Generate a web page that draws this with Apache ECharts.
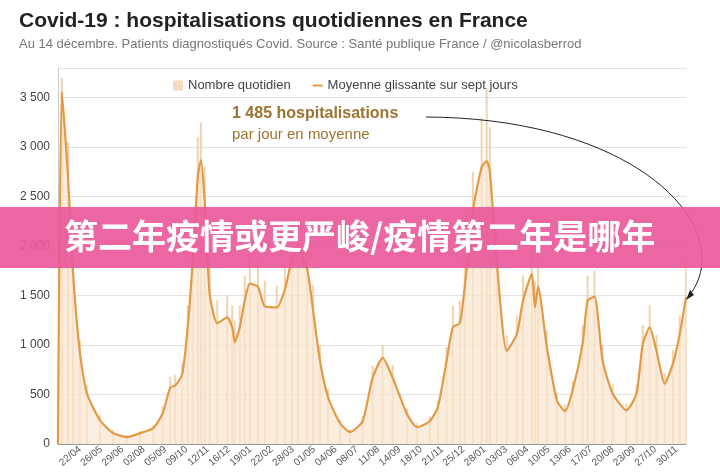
<!DOCTYPE html>
<html>
<head>
<meta charset="utf-8">
<script src="https://cdn.jsdelivr.net/npm/echarts@6/dist/echarts.min.js"></script>
<style>
  html, body { margin: 0; padding: 0; background: #fff; }
  #chart { width: 720px; height: 476px; }
</style>
</head>
<body>
<div id="chart"></div>
<script>
// day index from 18/03/2020
var dayIdx = [0, 6, 16, 24, 35, 46, 67, 88, 110, 131, 152, 167, 179, 187, 198, 207, 215, 223, 228, 234, 242, 254, 270, 278, 282, 290, 298, 306, 319, 330, 349, 362, 373, 383, 397, 407, 418, 431, 450, 466, 486, 502, 518, 534, 557, 573, 593, 606, 620, 630, 641, 649, 662, 676, 684, 689, 700, 716, 732, 742, 756, 761, 766, 780, 796, 809, 821, 837, 845, 856, 869, 885, 907, 923, 933, 944, 955, 968, 981, 992, 1002];
// moyenne glissante sur sept jours
var avgValues = [0, 3560, 2700, 1730, 920, 515, 240, 110, 70, 110, 160, 310, 570, 590, 700, 1180, 1860, 2700, 2870, 2460, 1520, 1220, 1280, 1180, 1030, 1180, 1450, 1620, 1590, 1390, 1380, 1560, 1860, 1960, 1790, 1350, 840, 470, 210, 120, 230, 670, 870, 670, 300, 170, 230, 370, 840, 1180, 1220, 1590, 2360, 2800, 2860, 2760, 1850, 940, 1110, 1450, 1720, 1380, 1590, 980, 440, 330, 540, 1010, 1450, 1490, 840, 510, 340, 510, 1010, 1180, 940, 610, 810, 1110, 1485];
// nombre quotidien (pics journaliers)
var dailyValues = [0, 3700, 3050, 1950, 1050, 600, 290, 140, 90, 130, 190, 380, 680, 700, 820, 1400, 2150, 3100, 3250, 2800, 1800, 1450, 1500, 1400, 1250, 1400, 1700, 1900, 1850, 1650, 1600, 1800, 2200, 2300, 2100, 1600, 1000, 560, 250, 150, 280, 790, 1000, 800, 360, 210, 280, 440, 980, 1400, 1450, 1850, 2750, 3300, 3600, 3200, 2150, 1100, 1300, 1700, 2000, 1650, 1850, 1150, 520, 400, 640, 1200, 1700, 1750, 1000, 600, 410, 600, 1200, 1400, 1100, 720, 950, 1300, 1900];
var startDate = new Date(2020, 2, 18);
var nbDays = 1003;
var firstLabel = 35, labelStep = 34;

var categories = [];
for (var i = 0; i < nbDays; i++) {
    var d = new Date(startDate.getTime() + i * 86400000);
    categories.push(('0' + d.getDate()).slice(-2) + '/' + ('0' + (d.getMonth() + 1)).slice(-2));
}

var chart = echarts.init(document.getElementById('chart'));
var font = 'Liberation Sans, Arial, sans-serif';

var option = {
    animation: false,
    textStyle: { fontFamily: font },
    title: {
        text: 'Covid-19 : hospitalisations quotidiennes en France',
        subtext: 'Au 14 décembre. Patients diagnostiqués Covid. Source : Santé publique France / @nicolasberrod',
        left: 14, top: 6, itemGap: 6,
        textStyle: { fontSize: 21, fontWeight: 'bold', color: '#222' },
        subtextStyle: { fontSize: 13, color: '#777' }
    },
    legend: {
        top: 74, left: 168, itemGap: 22,
        textStyle: { fontSize: 13, color: '#444' },
        data: [
            { name: 'Nombre quotidien', icon: 'rect', itemStyle: { color: '#f6dcbd' } },
            { name: 'Moyenne glissante sur sept jours', icon: 'path://M0,4 L10,4 L10,6 L0,6 Z' }
        ],
        itemWidth: 10, itemHeight: 10
    },
    grid: { left: 58, right: 34, top: 68, bottom: 32 },
    xAxis: {
        type: 'category',
        data: categories,
        boundaryGap: false,
        axisLine: { lineStyle: { color: '#999' } },
        axisTick: { show: false },
        axisLabel: {
            rotate: 40, fontSize: 10, color: '#555', margin: 4,
            interval: function (idx) { return idx >= firstLabel && (idx - firstLabel) % labelStep === 0; }
        }
    },
    yAxis: {
        type: 'value', min: 0, max: 3800, interval: 500,
        axisLine: { show: true, lineStyle: { color: '#ccc' } },
        splitLine: { lineStyle: { color: '#e2e2e2' } },
        axisLabel: {
            fontSize: 12, color: '#444', showMaxLabel: false,
            formatter: function (v) { return v >= 1000 ? Math.floor(v / 1000) + ' ' + String(v % 1000).padStart(3, '0') : v; }
        }
    },
    series: [
        {
            name: 'Nombre quotidien', type: 'bar',
            barWidth: 2, barGap: '-100%',
            itemStyle: { color: '#f3d3ad' },
            data: dayIdx.map(function (x, i) { return [x, dailyValues[i]]; })
        },
        {
            name: 'Moyenne glissante sur sept jours', type: 'line',
            showSymbol: false, smooth: 0.2,
            lineStyle: { color: '#e39a45', width: 2.2 },
            itemStyle: { color: '#e39a45' },
            areaStyle: { color: '#f9e6d0' },
            z: 3,
            data: dayIdx.map(function (x, i) { return [x, avgValues[i]]; })
        }
    ],
    graphic: [
        { type: 'text', left: 232, top: 106, z: 10,
          style: { text: '1 485 hospitalisations', font: 'bold 16px ' + font, fill: '#9c7430' } },
        { type: 'text', left: 232, top: 127, z: 10,
          style: { text: 'par jour en moyenne', font: '15px ' + font, fill: '#9c7430' } },
        { type: 'bezierCurve', z: 10,
          shape: { x1: 426, y1: 117, cpx1: 640, cpy1: 118, cpx2: 740, cpy2: 230, x2: 689, y2: 296 },
          style: { stroke: '#222', lineWidth: 1, fill: null } },
        { type: 'polygon', z: 10,
          shape: { points: [[686, 300], [690, 290], [694, 295]] },
          style: { fill: '#222' } },
        { type: 'rect', z: 20,
          shape: { x: 0, y: 207, width: 720, height: 61 },
          style: { fill: 'rgba(233, 90, 155, 0.93)' } },
        { type: 'text', z: 21, left: 64, top: 219,
          style: { text: '第二年疫情或更严峻/疫情第二年是哪年', font: 'bold 34px "Noto Sans CJK SC"', fill: '#fff' } }
    ]
};

chart.setOption(option);
</script>
</body>
</html>
